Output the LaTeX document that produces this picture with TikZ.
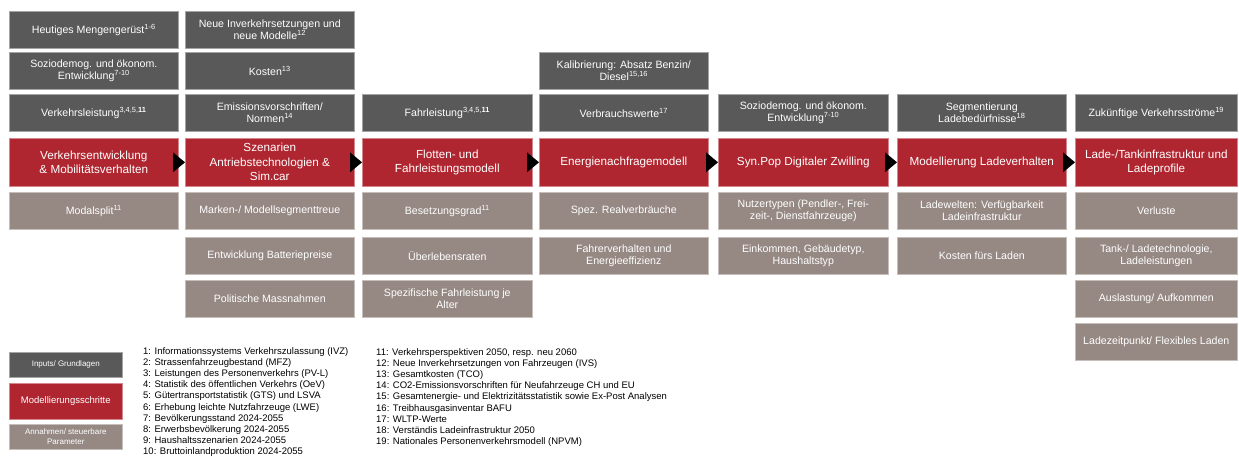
\documentclass[tikz,border=0pt]{standalone}
\usepackage{fontspec}
\setmainfont{Liberation Sans}
\definecolor{dg}{RGB}{89,89,89}
\definecolor{rd}{RGB}{176,38,48}
\definecolor{tp}{RGB}{150,137,132}
\newcommand\sups[1]{\textsuperscript{#1}}
\begin{document}
\begin{tikzpicture}[x=1pt,y=-1pt,
 base/.style={anchor=north west, inner sep=1pt, align=center, text=white, minimum height=37pt, line width=0.6pt},
 inbox/.style={base, fill=dg, draw=dg!55!white, font=\fontsize{10.6}{12}\selectfont},
 stepbox/.style={base, fill=rd, draw=rd!55!white, minimum height=48pt, font=\fontsize{11.7}{14.5}\selectfont},
 parbox/.style={base, fill=tp, draw=tp!55!white, font=\fontsize{10.6}{12}\selectfont},
 wd/.style={minimum width=#1pt},
 legendsmall/.style={wd=113, minimum height=25pt, font=\fontsize{8}{9.6}\selectfont},
 notes/.style={anchor=north west, inner sep=0pt, align=left, text=black, font=\fontsize{9.5}{11.2}\selectfont},
 tip/.style={fill=black}
]
\fill[white] (0,0) rectangle (1239,458);
\clip (0,0) rectangle (1239,458);
% inputs
\node[inbox,wd=169] (i11) at (9,11) {Heutiges Mengengerüst\sups{1-6}};
\node[inbox,wd=169] (i12) at (9,52) {Soziodemog. und ökonom.\\Entwicklung\sups{7-10}};
\node[inbox,wd=169] (i13) at (9,94) {Verkehrsleistung\sups{3,4,5,\textbf{11}}};
\node[inbox,wd=169] (i21) at (185,11) {Neue Inverkehrsetzungen und\\neue Modelle\sups{12}};
\node[inbox,wd=169] (i22) at (185,52) {Kosten\sups{13}};
\node[inbox,wd=169] (i23) at (185,94) {Emissionsvorschriften/\\Normen\sups{14}};
\node[inbox,wd=170] (i33) at (362,94) {Fahrleistung\sups{3,4,5,\textbf{11}}};
\node[inbox,wd=169] (i42) at (539,52) {Kalibrierung: Absatz Benzin/\\Diesel\sups{15,16}};
\node[inbox,wd=169] (i43) at (539,94) {Verbrauchswerte\sups{17}};
\node[inbox,wd=170] (i53) at (718,94) {Soziodemog. und ökonom.\\Entwicklung\sups{7-10}};
\node[inbox,wd=169] (i63) at (897,94) {Segmentierung\\Ladebedürfnisse\sups{18}};
\node[inbox,wd=162] (i73) at (1075,94) {Zukünftige Verkehrsströme\sups{19}};
% modelling steps
\node[stepbox,wd=169] (s1) at (9,138) {Verkehrsentwicklung\\\& Mobilitätsverhalten};
\node[stepbox,wd=169] (s2) at (185,138) {Szenarien\\Antriebstechnologien \&\\Sim.car};
\node[stepbox,wd=170] (s3) at (362,138) {Flotten- und\\Fahrleistungsmodell};
\node[stepbox,wd=169] (s4) at (539,138) {Energienachfragemodell};
\node[stepbox,wd=170] (s5) at (718,138) {Syn.Pop Digitaler Zwilling};
\node[stepbox,wd=169] (s6) at (897,138) {Modellierung Ladeverhalten};
\node[stepbox,wd=162] (s7) at (1075,138) {Lade-/Tankinfrastruktur und\\Ladeprofile};
% parameters
\node[parbox,wd=169] (p11) at (9,192) {Modalsplit\sups{11}};
\node[parbox,wd=169] (p21) at (185,192) {Marken-/ Modellsegmenttreue};
\node[parbox,wd=169] (p22) at (185,237) {Entwicklung Batteriepreise};
\node[parbox,wd=169] (p23) at (185,280) {Politische Massnahmen};
\node[parbox,wd=170] (p31) at (362,192) {Besetzungsgrad\sups{11}};
\node[parbox,wd=170] (p32) at (362,237) {Überlebensraten};
\node[parbox,wd=170] (p33) at (362,280) {Spezifische Fahrleistung je\\Alter};
\node[parbox,wd=169] (p41) at (539,192) {Spez. Realverbräuche};
\node[parbox,wd=169] (p42) at (539,237) {Fahrerverhalten und\\Energieeffizienz};
\node[parbox,wd=170] (p51) at (718,192) {Nutzertypen (Pendler-, Frei-\\zeit-, Dienstfahrzeuge)};
\node[parbox,wd=170] (p52) at (718,237) {Einkommen, Gebäudetyp,\\Haushaltstyp};
\node[parbox,wd=169] (p61) at (897,192) {Ladewelten: Verfügbarkeit\\Ladeinfrastruktur};
\node[parbox,wd=169] (p62) at (897,237) {Kosten fürs Laden};
\node[parbox,wd=162] (p71) at (1075,192) {Verluste};
\node[parbox,wd=162] (p72) at (1075,237) {Tank-/ Ladetechnologie,\\Ladeleistungen};
\node[parbox,wd=162] (p73) at (1075,280) {Auslastung/ Aufkommen};
\node[parbox,wd=162] (p74) at (1075,323) {Ladezeitpunkt/ Flexibles Laden};
% arrows
\foreach \b in {s2,s3,s4,s5,s6,s7}
  \fill[tip] (\b.west) -- ++(-12,-10) -- ++(0,20) -- cycle;
% legend
\node[inbox,legendsmall] (l1) at (9,352) {Inputs/ Grundlagen};
\node[stepbox,wd=113, minimum height=36pt, font=\fontsize{9.5}{11}\selectfont] (l2) at (9,383) {Modellierungsschritte};
\node[parbox,legendsmall] (l3) at (9,424) {Annahmen/ steuerbare\\Parameter};
% notes
\node[notes] (na) at (143,347) {1: Informationssystems Verkehrszulassung (IVZ)\\
2: Strassenfahrzeugbestand (MFZ)\\
3: Leistungen des Personenverkehrs (PV-L)\\
4: Statistik des öffentlichen Verkehrs (OeV)\\
5: Gütertransportstatistik (GTS) und LSVA\\
6: Erhebung leichte Nutzfahrzeuge (LWE)\\
7: Bevölkerungsstand 2024-2055\\
8: Erwerbsbevölkerung 2024-2055\\
9: Haushaltsszenarien 2024-2055\\
10: Bruttoinlandproduktion 2024-2055};
\node[notes] (nb) at (376,348) {11: Verkehrsperspektiven 2050, resp. neu 2060\\
12: Neue Inverkehrsetzungen von Fahrzeugen (IVS)\\
13: Gesamtkosten (TCO)\\
14: CO2-Emissionsvorschriften für Neufahrzeuge CH und EU\\
15: Gesamtenergie- und Elektrizitätsstatistik sowie Ex-Post Analysen\\
16: Treibhausgasinventar BAFU\\
17: WLTP-Werte\\
18: Verständis Ladeinfrastruktur 2050\\
19: Nationales Personenverkehrsmodell (NPVM)};
\end{tikzpicture}
\end{document}
